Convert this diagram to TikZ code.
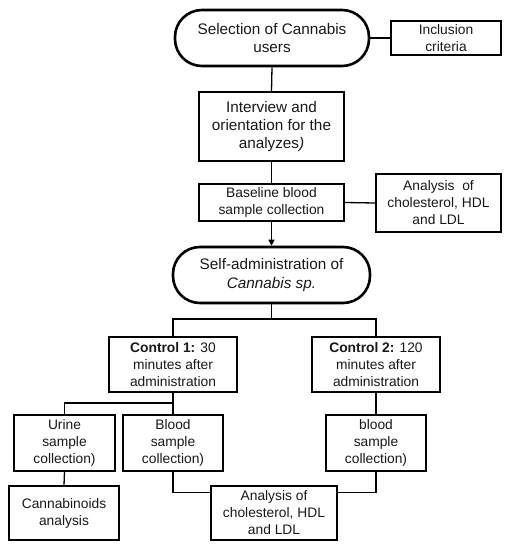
\documentclass[tikz,border=0pt]{standalone}
\usepackage{fontspec}
\setmainfont{Liberation Sans}
\usetikzlibrary{arrows.meta}
\begin{document}
\begin{tikzpicture}[x=1pt,y=-1pt,
  every node/.style={font=\fontsize{13.8}{17}\selectfont, align=center, inner sep=0pt, text=black!90},
  big/.style={font=\fontsize{15.3}{18.3}\selectfont},
  box/.style={draw, line width=1.6pt, rectangle},
  stad/.style={draw, line width=2.6pt, rounded corners=27pt},
  conn/.style={line width=1.3pt}
]
\useasboundingbox (0,0) rectangle (510,550);
\node[stad, big, minimum width=194pt, minimum height=56pt] (sel) at (272,38) {Selection of Cannabis\\users};
\node[box, minimum width=110pt, minimum height=34pt] (incl) at (446,38) {Inclusion\\criteria};
\node[box, big, minimum width=145pt, minimum height=69pt] (intv) at (271.5,126.5) {Interview and\\orientation for the\\analyzes\textit{)}};
\node[box, minimum width=145pt, minimum height=37pt] (base) at (271.5,202.5) {Baseline blood\\sample collection};
\node[box, minimum width=125pt, minimum height=58pt] (anA) at (438.5,203) {Analysis\ \ of\\cholesterol, HDL\\and LDL};
\node[stad, big, minimum width=197pt, minimum height=56pt] (self) at (271.5,275) {Self-administration of\\\textit{Cannabis sp.}};
\node[box, minimum width=128pt, minimum height=55pt] (c1) at (173,364.5) {\textbf{Control 1:} 30\\minutes after\\administration};
\node[box, minimum width=128pt, minimum height=55pt] (c2) at (376,364.5) {\textbf{Control 2:} 120\\minutes after\\administration};
\node[box, minimum width=101pt, minimum height=56pt] (ur) at (64.5,443) {Urine\\sample\\collection)};
\node[box, minimum width=100pt, minimum height=56pt] (b1) at (173,443) {Blood\\sample\\collection)};
\node[box, minimum width=100pt, minimum height=56pt] (b2) at (376,443) {blood\\sample\\collection)};
\node[box, minimum width=110pt, minimum height=54pt] (cann) at (64,513) {Cannabinoids\\analysis};
\node[box, minimum width=126pt, minimum height=54pt] (anB) at (274,513) {Analysis of\\cholesterol, HDL\\and LDL};

\draw[conn] (sel.east) -- (incl.west);
\draw[conn] (sel.south) -- (intv.north);
\draw[conn] (intv.south) -- (base.north);
\draw[conn] (base.east) -- (anA.west);
\draw[conn, -{Triangle[length=6pt,width=6pt]}] (base.south) -- (self.north);
\coordinate (s1) at (271.5,319);
\draw[conn] (self.south) -- (s1);
\draw[conn] (s1) -| (c1.north);
\draw[conn] (s1) -| (c2.north);
\coordinate (s2) at (173,403);
\draw[conn] (c1.south) -- (s2);
\draw[conn] (s2) -| (ur.north);
\draw[conn] (s2) -- (b1.north);
\draw[conn] (ur.south) -- (cann.north);
\draw[conn] (c2.south) -- (b2.north);
\draw[conn] (b1.south) |- ([yshift=-7pt]anB.north west);
\draw[conn] (b2.south) |- ([yshift=-7pt]anB.north east);
\end{tikzpicture}
\end{document}
